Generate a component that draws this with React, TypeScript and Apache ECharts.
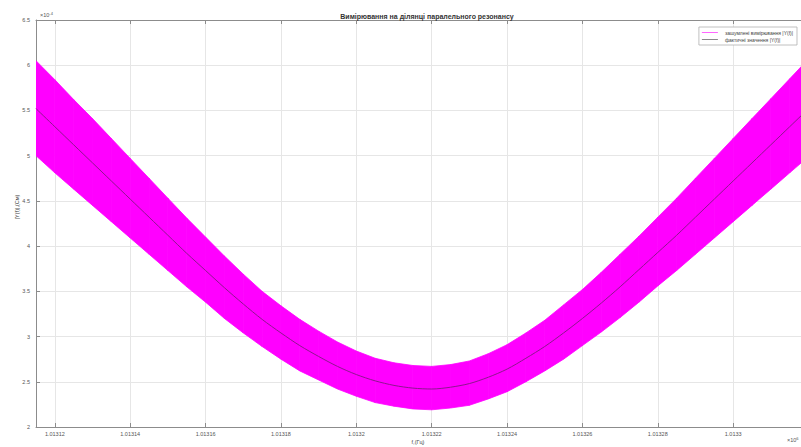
import React, { useEffect, useRef } from "react";
import * as echarts from "echarts";

const titleText = "Вимірювання на ділянці паралельного резонансу";
const noisyName = "зашумлені вимірювання |Y(f)|";
const trueName = "фактичні значення |Y(f)|";

const freq = [
  1.013115, 1.01312, 1.013125, 1.01313, 1.013135, 1.01314, 1.013145, 1.01315, 1.013155, 1.01316,
  1.013165, 1.01317, 1.013175, 1.01318, 1.013185, 1.01319, 1.013195, 1.0132, 1.013205, 1.01321,
  1.013215, 1.01322, 1.013225, 1.01323, 1.013235, 1.01324, 1.013245, 1.01325, 1.013255, 1.01326,
  1.013265, 1.01327, 1.013275, 1.01328, 1.013285, 1.01329, 1.013295, 1.0133, 1.013305, 1.01331,
  1.013315, 1.01332,
];

const center = [
  5.52, 5.32, 5.12, 4.92, 4.72, 4.52, 4.32, 4.12, 3.92, 3.73,
  3.54, 3.36, 3.19, 3.04, 2.9, 2.78, 2.67, 2.58, 2.51, 2.46,
  2.43, 2.42, 2.44, 2.48, 2.55, 2.64, 2.76, 2.89, 3.04, 3.2,
  3.37, 3.55, 3.74, 3.93, 4.12, 4.32, 4.52, 4.72, 4.92, 5.12,
  5.32, 5.52,
];

const upper = [
  6.05, 5.84, 5.62, 5.41, 5.19, 4.97, 4.75, 4.53, 4.31, 4.1,
  3.89, 3.69, 3.5, 3.34, 3.19, 3.06, 2.94, 2.84, 2.76, 2.71,
  2.68, 2.67, 2.69, 2.73, 2.81, 2.91, 3.04, 3.18, 3.35, 3.52,
  3.71, 3.91, 4.11, 4.32, 4.53, 4.75, 4.97, 5.19, 5.41, 5.63,
  5.85, 6.07,
];

const lower = [
  5.0, 4.81, 4.63, 4.45, 4.27, 4.09, 3.91, 3.73, 3.55, 3.38,
  3.2, 3.04, 2.89, 2.75, 2.62, 2.52, 2.42, 2.34, 2.27, 2.23,
  2.2, 2.19, 2.21, 2.24, 2.31, 2.39, 2.5, 2.62, 2.75, 2.9,
  3.05, 3.21, 3.38, 3.56, 3.73, 3.91, 4.09, 4.27, 4.45, 4.63,
  4.81, 4.99,
];

const xTicks = [1.01312, 1.01314, 1.01316, 1.01318, 1.0132, 1.01322, 1.01324, 1.01326, 1.01328, 1.0133];
const xMin = 1.013115;
const xMax = 1.013318;
const yMin = 2;
const yMax = 6.5;
const yStep = 0.5;

const FONT = "'Liberation Sans', Arial, sans-serif";

export default function App() {
  const ref = useRef<HTMLDivElement>(null);

  useEffect(() => {
    if (!ref.current) return;
    const chart = echarts.init(ref.current, undefined, { renderer: "svg" });

    // one band segment per item: [f0, up0, lo0, f1, up1, lo1]
    const bandData = freq.slice(0, -1).map((f, i) => [
      f, upper[i], lower[i], freq[i + 1], upper[i + 1], lower[i + 1],
    ]);
    const centerData = freq.map((f, i) => [f, center[i]]);

    const axisLineColor = "#8c8c8c";
    const labelColor = "#555";

    chart.setOption({
      animation: false,
      backgroundColor: "#ffffff",
      textStyle: { fontFamily: FONT },
      title: {
        text: titleText,
        left: 422,
        top: 8,
        textAlign: "center",
        textStyle: { fontSize: 7, fontWeight: "bold", color: "#333", fontFamily: FONT },
      },
      legend: {
        data: [noisyName, trueName],
        orient: "vertical",
        right: 4,
        top: 27,
        padding: [3, 4, 3, 3],
        itemGap: 2,
        itemWidth: 16,
        itemHeight: 1,
        icon: "rect",
        backgroundColor: "#ffffff",
        borderColor: "#b0b0b0",
        borderWidth: 0.8,
        borderRadius: 0,
        textStyle: { fontSize: 5, color: "#444", fontFamily: FONT, padding: [0, 0, 0, 2] },
      },
      grid: { left: 36, top: 20, width: 772, height: 407, containLabel: false },
      xAxis: [
        {
          type: "value",
          min: xMin,
          max: xMax,
          axisLine: { show: true, lineStyle: { color: axisLineColor, width: 1 } },
          axisTick: { show: true, inside: true, length: 4, customValues: xTicks, lineStyle: { color: axisLineColor } },
          axisLabel: {
            customValues: xTicks,
            fontSize: 5.5,
            color: labelColor,
            margin: 4,
            formatter: (v: number) => String(+v.toFixed(5)),
          },
          splitLine: { show: true, lineStyle: { color: "#e6e6e6", width: 1 } },
        },
        {
          type: "value",
          position: "top",
          min: xMin,
          max: xMax,
          axisLine: { show: true, lineStyle: { color: axisLineColor, width: 1 } },
          axisTick: { show: true, inside: true, length: 4, customValues: xTicks, lineStyle: { color: axisLineColor } },
          axisLabel: { show: false },
          splitLine: { show: false },
        },
      ],
      yAxis: {
        type: "value",
        min: yMin,
        max: yMax,
        interval: yStep,
        axisLine: { show: true, lineStyle: { color: axisLineColor, width: 1 } },
        axisTick: { show: true, inside: true, length: 4, lineStyle: { color: axisLineColor } },
        axisLabel: { fontSize: 5.5, color: labelColor, margin: 6 },
        splitLine: { show: true, lineStyle: { color: "#e6e6e6", width: 1 } },
      },
      series: [
        {
          name: noisyName,
          type: "custom",
          data: bandData,
          itemStyle: { color: "#ff66ff" },
          clip: true,
          encode: { x: [0, 3], y: [1, 2, 4, 5] },
          renderItem: (params: any, api: any) => {
            const p1 = api.coord([api.value(0), api.value(1)]);
            const p2 = api.coord([api.value(3), api.value(4)]);
            const p3 = api.coord([api.value(3), api.value(5)]);
            const p4 = api.coord([api.value(0), api.value(2)]);
            return {
              type: "polygon",
              shape: { points: [p1, p2, p3, p4] },
              style: { fill: "#ff00ff", stroke: "#ff00ff", lineWidth: 0.8 },
              silent: true,
            };
          },
        },
        {
          name: trueName,
          type: "line",
          data: centerData,
          symbol: "none",
          smooth: 0.3,
          lineStyle: { color: "#8e168e", width: 1 },
          itemStyle: { color: "#8a8a8a" },
          z: 5,
        },
      ],
      graphic: [
        {
          type: "text",
          x: 40,
          y: 11,
          style: {
            text: "{a|×10}{b|-4}",
            rich: {
              a: { fontSize: 5.5, fill: labelColor, fontFamily: FONT },
              b: { fontSize: 4, fill: labelColor, fontFamily: FONT, verticalAlign: "top", padding: [0, 0, 4, 0] },
            },
          },
        },
        {
          type: "text",
          x: 17,
          y: 207,
          rotation: Math.PI / 2,
          style: {
            text: "|Y(f)|,(См)",
            fontSize: 5.5,
            fill: "#444",
            fontFamily: FONT,
            align: "center",
            verticalAlign: "middle",
          },
        },
        {
          type: "text",
          x: 418,
          y: 442,
          style: {
            text: "f,(Гц)",
            fontSize: 5.5,
            fill: "#444",
            fontFamily: FONT,
            align: "center",
            verticalAlign: "middle",
          },
        },
        {
          type: "text",
          x: 787,
          y: 436,
          style: {
            text: "{a|×10}{b|6}",
            rich: {
              a: { fontSize: 5.5, fill: labelColor, fontFamily: FONT },
              b: { fontSize: 4, fill: labelColor, fontFamily: FONT, verticalAlign: "top", padding: [0, 0, 3, 0] },
            },
          },
        },
      ],
    });

    return () => chart.dispose();
  }, []);

  return (
    <div
      ref={ref}
      style={{ position: "fixed", left: 0, top: 0, width: 801, height: 447, background: "#fff" }}
    />
  );
}
